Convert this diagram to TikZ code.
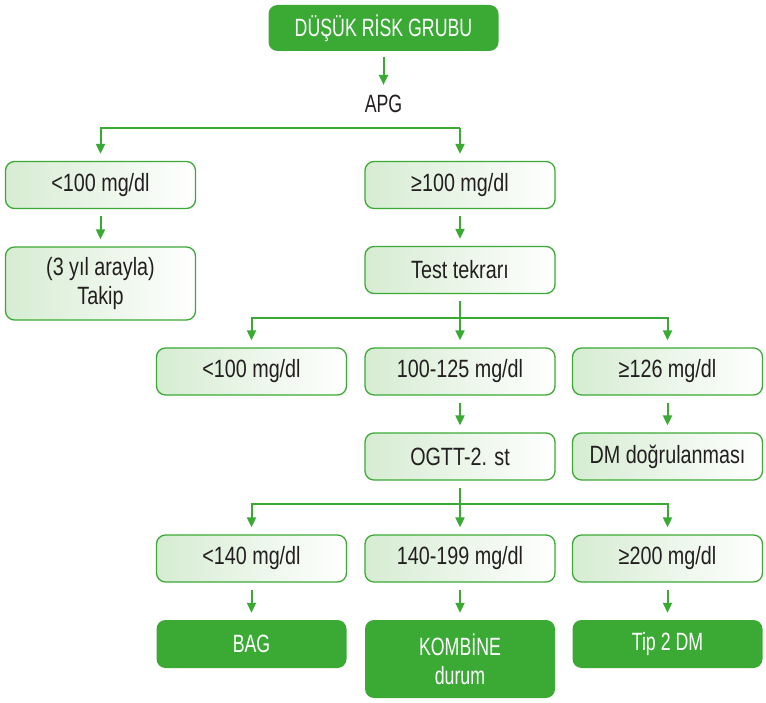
\documentclass[tikz,border=0pt]{standalone}
\usepackage{fontspec}
\setmainfont{Liberation Sans}[FakeStretch=0.79]
\newfontfamily\narrowfont{Liberation Sans}[FakeStretch=0.71]
\usetikzlibrary{arrows.meta,positioning}
\definecolor{dg}{HTML}{3AAA35}
\definecolor{lg}{HTML}{D6ECD2}
\definecolor{txt}{HTML}{231F20}
\tikzset{
  base/.style={rounded corners=9pt, minimum width=190pt, minimum height=47pt,
    align=center, inner sep=2pt, font=\fontsize{25}{29}\selectfont},
  lightbox/.style={base, draw=dg, line width=1.3pt, left color=lg, right color=white, text=txt},
  darkbox/.style={base, fill=dg, text=white, font=\fontsize{25}{29}\narrowfont},
  arr/.style={draw=dg, line width=2pt, -{Triangle[width=9pt,length=10pt]},
    shorten >=7pt, shorten <=7pt},
  bar/.style={draw=dg, line width=2pt, -{Triangle[width=9pt,length=10pt]},
    shorten >=7pt},
}
\begin{document}
\begin{tikzpicture}[x=1pt,y=-1pt]
\useasboundingbox (0,0) rectangle (766,703);

% header and first split
\node[darkbox, minimum width=230pt, minimum height=46pt] (top) at (383.5,28) {DÜŞÜK RİSK GRUBU};
\node[text=txt, font=\fontsize{25}{29}\narrowfont, inner sep=0pt] (apg) at (383.5,104) {APG};
\node[lightbox] (a1) at (100.5,185) {<100 mg/dl};
\node[lightbox] (a2) at (460,185) {≥100 mg/dl};
\node[lightbox, minimum height=73pt] (takip) at (100.5,283.5) {(3 yıl arayla)\\Takip};
\node[lightbox] (tt) at (460,270) {Test tekrarı};

% second split
\node[lightbox] (b1) at (251.5,371.5) {<100 mg/dl};
\node[lightbox] (b2) at (460,371.5) {100-125 mg/dl};
\node[lightbox] (b3) at (667.5,371.5) {≥126 mg/dl};
\node[lightbox] (ogtt) at (460,456.5) {OGTT-2. st};
\node[lightbox] (dm) at (667.5,456.5) {DM doğrulanması};

% third split
\node[lightbox] (c1) at (251.5,558.5) {<140 mg/dl};
\node[lightbox] (c2) at (460,558.5) {140-199 mg/dl};
\node[lightbox] (c3) at (667.5,558.5) {≥200 mg/dl};
\node[darkbox, minimum height=48pt] (bag) at (251.5,644) {BAG};
\node[darkbox, minimum height=78pt] (komb) at (460,659) {KOMBİNE\\durum};
\node[darkbox, minimum height=48pt] (tip) at (667.5,644) {Tip 2 DM};

% junction points of the horizontal bars
\coordinate (j1) at (460,128);
\coordinate (j2) at (460,318);
\coordinate (j3) at (460,504);

% connectors
\draw[arr, shorten <=6pt, shorten >=10pt] (top.south) -- (apg.north);
\draw[bar] (j1) -| (a1.north);
\draw[bar] (j1) -- (a2.north);
\draw[arr] (a1) -- (takip);
\draw[arr] (a2) -- (tt);

\draw[arr] (tt.south) -- (b2.north);
\draw[bar] (j2) -| (b1.north);
\draw[bar] (j2) -| (b3.north);
\draw[arr] (b2) -- (ogtt);
\draw[arr] (b3) -- (dm);

\draw[arr] (ogtt.south) -- (c2.north);
\draw[bar] (j3) -| (c1.north);
\draw[bar] (j3) -| (c3.north);
\draw[arr] (c1) -- (bag);
\draw[arr] (c2) -- (komb);
\draw[arr] (c3) -- (tip);
\end{tikzpicture}
\end{document}
